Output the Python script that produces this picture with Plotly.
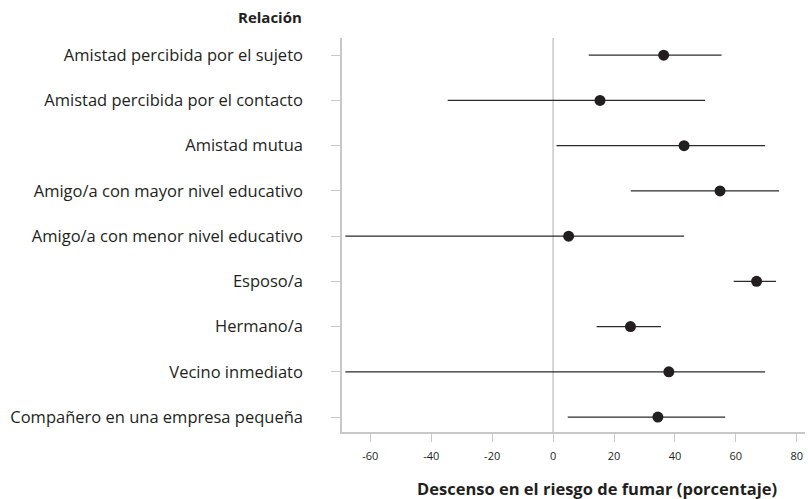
import plotly.graph_objects as go

categories = [
    "Amistad percibida por el sujeto",
    "Amistad percibida por el contacto",
    "Amistad mutua",
    "Amigo/a con mayor nivel educativo",
    "Amigo/a con menor nivel educativo",
    "Esposo/a",
    "Hermano/a",
    "Vecino inmediato",
    "Compañero en una empresa pequeña",
]
estimate = [36.3, 15.4, 43.0, 54.8, 5.1, 66.8, 25.4, 38.0, 34.4]
lower = [11.7, -34.6, 1.1, 25.5, -68.2, 59.3, 14.3, -68.2, 4.8]
upper = [55.3, 49.9, 69.6, 74.2, 43.0, 73.2, 35.4, 69.6, 56.5]
x_ticks = [-60, -40, -20, 0, 20, 40, 60, 80]

FONT = "Open Sans"
plus = [u - e for u, e in zip(upper, estimate)]
minus = [e - l for e, l in zip(estimate, lower)]

fig = go.Figure()
fig.add_trace(go.Scatter(
    x=estimate, y=categories, mode="markers",
    marker=dict(size=11, color="#231f20"),
    error_x=dict(type="data", symmetric=False, array=plus, arrayminus=minus,
                 color="#2b2b2b", thickness=1.3, width=0),
    showlegend=False, hoverinfo="skip",
))
fig.add_shape(type="line", xref="x", yref="paper", x0=0, x1=0, y0=0, y1=1,
              line=dict(color="#c8c8c8", width=1.5), layer="below")

fig.update_layout(
    width=808, height=499,
    margin=dict(l=342, r=3, t=38, b=67),
    plot_bgcolor="white", paper_bgcolor="white",
    font=dict(family=FONT, color="#231f20"),
    xaxis=dict(range=[-69.3, 82.7], tickvals=x_ticks, ticktext=[str(v) for v in x_ticks],
               automargin=False,
               showgrid=False, zeroline=False, showline=True, linecolor="#c8c8c8",
               linewidth=1.5, ticks="outside", ticklen=8, tickcolor="#c8c8c8",
               ticklabelstandoff=5,
               tickfont=dict(size=11, color="#231f20", family=FONT)),
    yaxis=dict(type="category", categoryorder="array", categoryarray=categories,
               automargin=False,
               range=[8.33, -0.38], showgrid=False, zeroline=False, showline=True,
               linecolor="#c8c8c8", linewidth=1.5, ticks="outside", ticklen=9,
               tickcolor="#c8c8c8", ticklabelstandoff=25,
               tickfont=dict(size=16.5, family=FONT, color="#231f20")),
)
fig.add_annotation(text="<b>Relación</b>", xref="paper", yref="paper",
                   x=-0.0816, y=1.0, yshift=21, xanchor="right", yanchor="middle",
                   showarrow=False, font=dict(size=15, family=FONT))
fig.add_annotation(text="<b>Descenso en el riesgo de fumar (porcentaje)</b>",
                   xref="paper", yref="paper", x=0.551, y=0, yshift=-56,
                   xanchor="center", yanchor="middle", showarrow=False,
                   font=dict(size=16.5, family=FONT))
fig.write_html("out.html", config={"displayModeBar": False},
               post_script="document.body.style.margin='0';")
